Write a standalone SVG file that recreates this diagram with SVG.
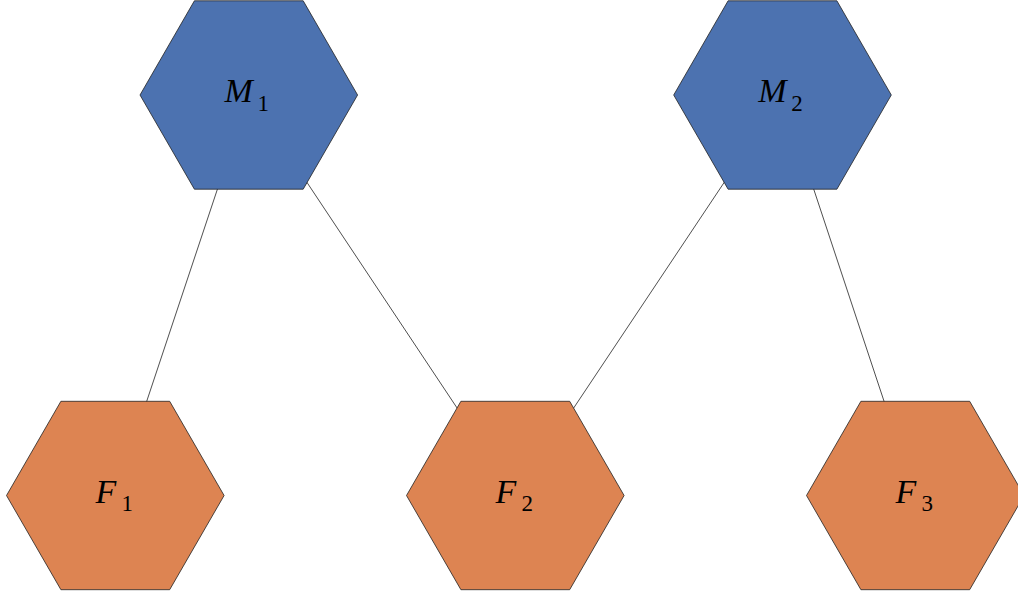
<svg xmlns="http://www.w3.org/2000/svg" width="1018" height="594" viewBox="0 0 1018 594">
<style>
.m{fill:#4c72b0;stroke:#222;stroke-width:0.8}
.f{fill:#dd8452;stroke:#222;stroke-width:0.8}
.e{stroke:#222;stroke-width:0.8;fill:none}
.l{font-family:"Liberation Serif",serif;font-style:italic;font-size:34px;fill:#000}
.s{font-family:"Liberation Serif",serif;font-size:23px;fill:#000}
</style>
<rect width="1018" height="594" fill="#fff"/>
<g id="connectors">
<line class="e" x1="248.8" y1="95" x2="115.3" y2="495.5"/>
<line class="e" x1="248.8" y1="95" x2="515.3" y2="495.5"/>
<line class="e" x1="782.5" y1="95" x2="515.3" y2="495.5"/>
<line class="e" x1="782.5" y1="95" x2="915.3" y2="495.5"/>
</g>
<g id="M1">
<polygon class="m" points="140,95 194.4,0.8 303.2,0.8 357.6,95 303.2,189.2 194.4,189.2"/>
<text class="l" x="224.5" y="102">M</text><text class="s" x="257.5" y="111">1</text>
</g>
<g id="M2">
<polygon class="m" points="673.7,95 728.1,0.8 836.9,0.8 891.3,95 836.9,189.2 728.1,189.2"/>
<text class="l" x="758.2" y="102">M</text><text class="s" x="791.2" y="111">2</text>
</g>
<g id="F1">
<polygon class="f" points="6.5,495.5 60.9,401.3 169.7,401.3 224.1,495.5 169.7,589.7 60.9,589.7"/>
<text class="l" x="95.5" y="503">F</text><text class="s" x="121.5" y="511">1</text>
</g>
<g id="F2">
<polygon class="f" points="406.5,495.5 460.9,401.3 569.7,401.3 624.1,495.5 569.7,589.7 460.9,589.7"/>
<text class="l" x="495.5" y="503">F</text><text class="s" x="521.5" y="511">2</text>
</g>
<g id="F3">
<polygon class="f" points="806.5,495.5 860.9,401.3 969.7,401.3 1024.1,495.5 969.7,589.7 860.9,589.7"/>
<text class="l" x="895.5" y="503">F</text><text class="s" x="921.5" y="511">3</text>
</g>
</svg>
